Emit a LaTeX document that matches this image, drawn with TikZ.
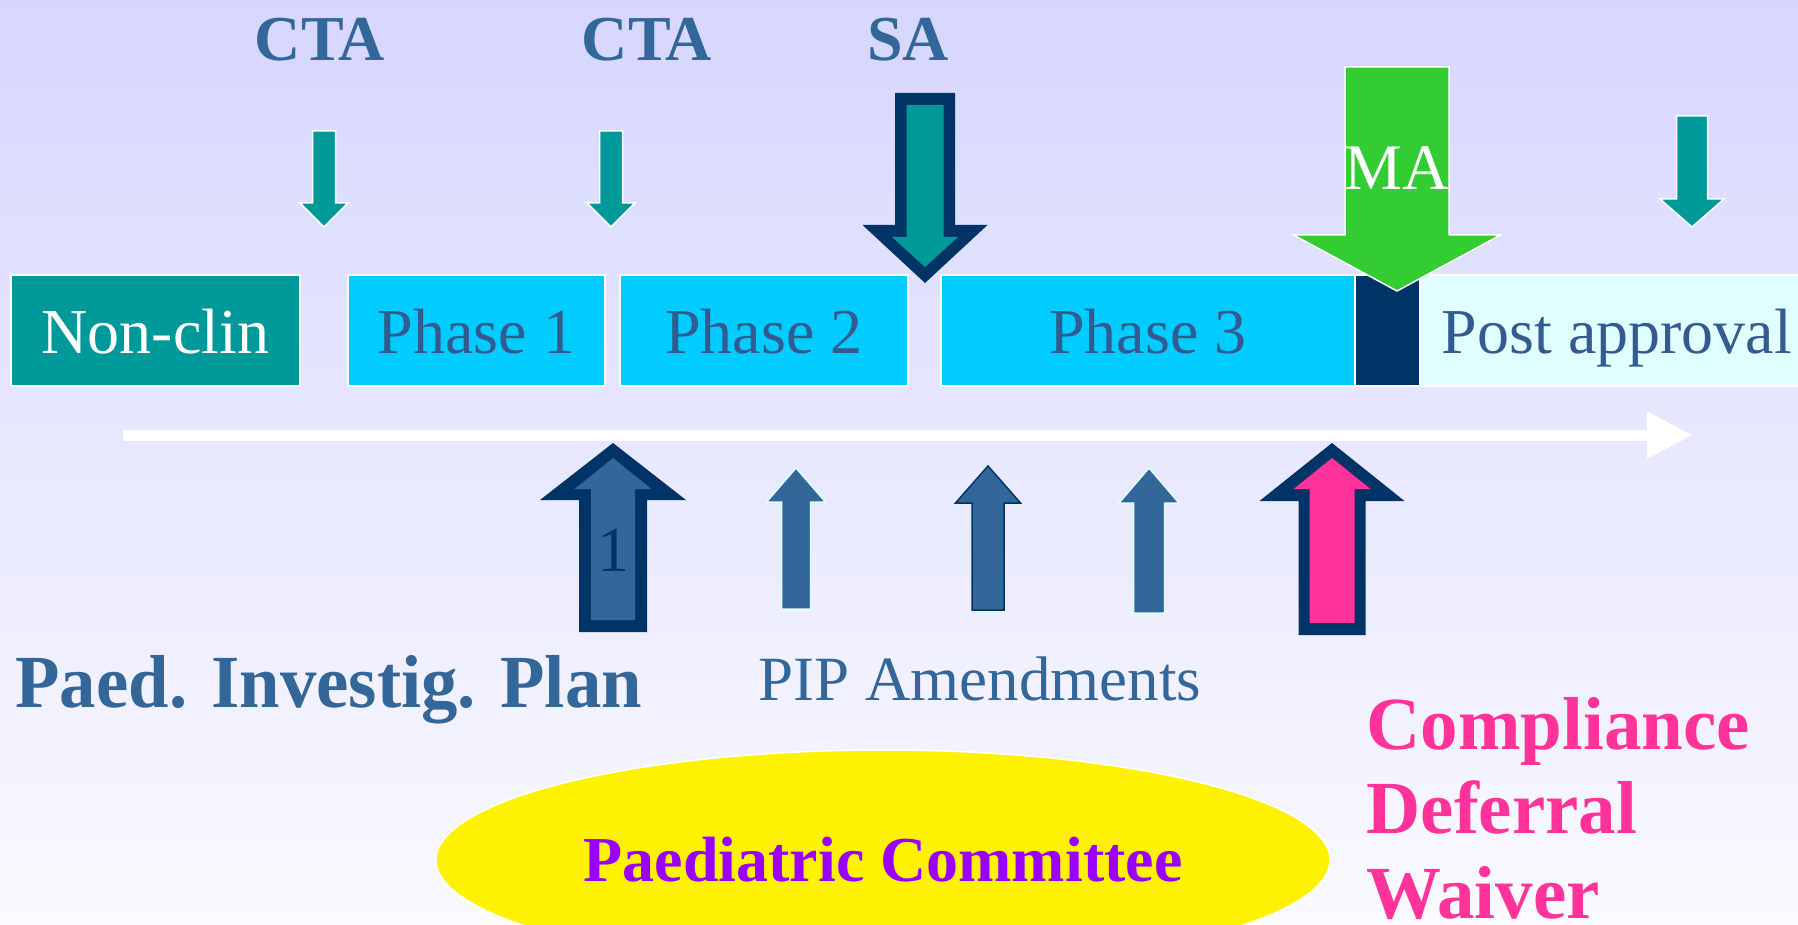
\documentclass[tikz,border=0pt]{standalone}
\usepackage{fontspec}
\setmainfont{Liberation Serif}
\usepackage{tikz}
\usetikzlibrary{arrows.meta}
\usetikzlibrary{shapes.geometric}
\usetikzlibrary{positioning}
\definecolor{bgtop}{HTML}{D6D6FF}
\definecolor{bgbot}{HTML}{FAFAFF}
\definecolor{tealc}{HTML}{009999}
\definecolor{navyc}{HTML}{003366}
\definecolor{phasec}{HTML}{00CCFF}
\definecolor{postc}{HTML}{E0FFFF}
\definecolor{steelc}{HTML}{336699}
\definecolor{phtext}{HTML}{335B8F}
\definecolor{mac}{HTML}{33CC33}
\definecolor{pinkc}{HTML}{FF3399}
\definecolor{purplec}{HTML}{9900FF}
\tikzset{phasebox/.style={rectangle,draw=white,line width=2pt,fill=phasec,text=phtext,inner sep=0pt,outer sep=0pt,minimum height=111pt,text height=46pt,text depth=0pt,font=\fontsize{64}{70}\selectfont}}
\tikzset{toplabel/.style={anchor=base,text=steelc,font=\bfseries\fontsize{64}{70}\selectfont}}
\tikzset{ctaarrow/.style={fill=tealc,draw=white,line width=1.5pt}}
\tikzset{amendarrow/.style={fill=steelc,draw=postc,line width=1.5pt}}
\tikzset{rim/.style={fill=navyc}}
\tikzset{compl/.style={anchor=base west,text=pinkc,font=\bfseries\fontsize{75}{85}\selectfont}}
% cx, tip y, head base y, end y, half shaft, half head
\newcommand{\blockarrow}[7]{%
  \path[#1] ({#2-#6},#5) -- ({#2-#6},#4) -- ({#2-#7},#4) -- (#2,#3)
    -- ({#2+#7},#4) -- ({#2+#6},#4) -- ({#2+#6},#5) -- cycle;}

\begin{document}
\begin{tikzpicture}[x=1pt,y=-1pt]
\useasboundingbox (0,0) rectangle (1798,925);
\clip (0,0) rectangle (1798,925);
\shade[top color=bgtop,bottom color=bgbot] (0,0) rectangle (1798,925);

% top labels
\node[toplabel] (cta1) at (320,61) {CTA};
\node[toplabel] (cta2) at (647,61) {CTA};
\node[toplabel] (sa) at (908,61) {SA};

% small down arrows
\foreach \cx/\sw/\hw/\top/\base in {324/11.5/24/131/203, 611/11.5/24/131/203, 1692/15.5/32/116/199}
  {\blockarrow{ctaarrow}{\cx}{227}{\base}{\top}{\sw}{\hw}}

% SA arrow
\blockarrow{rim}{925}{283}{225}{93}{30}{62.5}
\blockarrow{fill=tealc}{925}{267}{237}{105}{18.5}{33}

% phases
\node[phasebox,fill=tealc,text=white,minimum width=289pt] (nonclin) at (155.5,330.5) {Non-clin};
\node[phasebox,minimum width=257pt] (phase1) at (476.5,330.5) {Phase 1};
\node[phasebox,minimum width=288pt] (phase2) at (764,330.5) {Phase 2};
\node[phasebox,minimum width=414pt] (phase3) at (1148,330.5) {Phase 3};
\node[phasebox,fill=navyc,minimum width=65pt] (mabar) at (1387.5,330.5) {};
\node[phasebox,fill=postc,minimum width=394pt] (post) at (1617,330.5) {Post approval};

% MA arrow
\blockarrow{fill=mac,draw=white,line width=1.5pt}{1397}{291}{235}{67}{52}{103.5}
\node[anchor=base,text=white,font=\fontsize{65}{70}\selectfont] (ma) at (1397,190) {MA};

% time line
\coordinate (tstart) at (123,435);
\coordinate (tend) at (1693,435);
\draw[white,line width=11pt,-{Triangle[length=46pt,width=44pt]}] (tstart) -- (tend);

% PIP arrow
\blockarrow{rim}{613}{443}{500}{632}{34}{73}
\blockarrow{fill=steelc}{613}{458}{489}{620}{22}{38.5}
\node[anchor=base,text=navyc,font=\fontsize{64}{70}\selectfont] (pipone) at (613,571) {1};

% amendments
\blockarrow{amendarrow}{796}{468}{502}{609}{14.5}{29.5}
\blockarrow{amendarrow,draw=navyc}{988}{466}{503}{610}{16}{32.5}
\blockarrow{amendarrow}{1149}{468}{503}{613}{15.5}{30}

% compliance arrow
\blockarrow{rim}{1332}{443}{501}{635}{33.5}{72.5}
\blockarrow{fill=pinkc}{1332}{458}{489}{623}{22.5}{38.5}

\node[anchor=base west,text=steelc,font=\bfseries\fontsize{75}{80}\selectfont,xscale=0.97] (pip) at (12,707) {Paed. Investig. Plan};
\node[anchor=base west,text=steelc,font=\fontsize{63}{70}\selectfont] (pipamend) at (755,700) {PIP Amendments};

\node[compl] (comply) at (1363,749) {Compliance};
\node[compl] (defer) at (1363,833) {Deferral};
\node[compl] (waive) at (1363,918) {Waiver};

\node[ellipse,fill=yellow,draw=white,line width=1.5pt,inner sep=0pt,minimum width=894pt,minimum height=220pt,text=purplec,font=\bfseries\fontsize{64}{70}\selectfont] (paedcom) at (883,860) {Paediatric Committee};
\end{tikzpicture}
\end{document}
